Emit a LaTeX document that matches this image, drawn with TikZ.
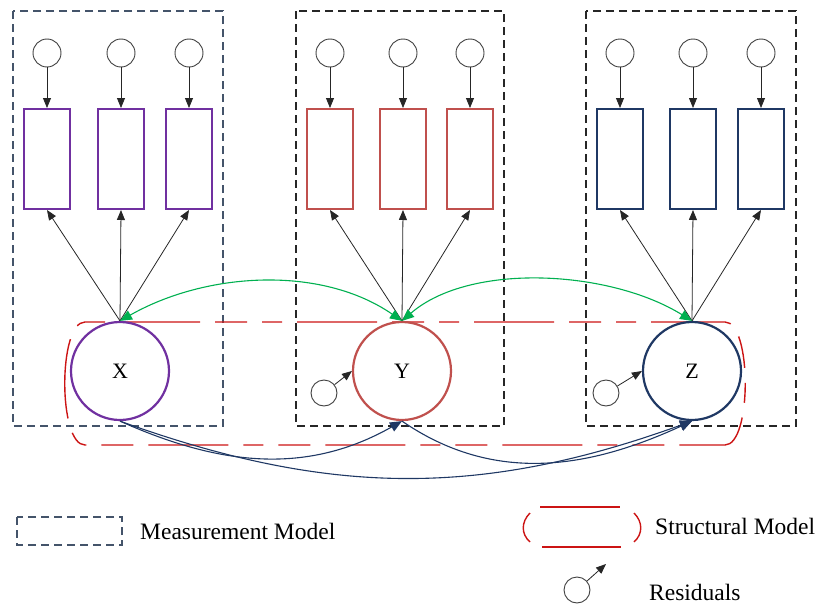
\documentclass[tikz,border=0pt]{standalone}
\usepackage{fontspec}
\setmainfont{Liberation Serif}
\usetikzlibrary{arrows.meta}
\definecolor{lvpurple}{HTML}{7030A0}
\definecolor{lvred}{HTML}{C0504D}
\definecolor{lvnavy}{HTML}{1F3864}
\definecolor{mmblue}{HTML}{44546A}
\definecolor{smred}{HTML}{CC1414}
\definecolor{covgreen}{HTML}{00B050}
\tikzset{
  >={Triangle[length=10pt,width=8pt]},
  indic/.style={draw,fill=white,minimum width=46pt,minimum height=100pt,
    line width=2pt,inner sep=0pt},
  errc/.style={circle,draw=black!75,fill=white,minimum size=28pt,
    line width=0.9pt,inner sep=0pt},
  latent/.style={circle,fill=white,minimum size=98pt,line width=2.2pt,
    inner sep=0pt,font=\fontsize{22}{26}\selectfont},
  resid/.style={circle,draw=black!75,fill=white,minimum size=26pt,
    line width=0.9pt,inner sep=0pt},
  load/.style={->,line width=0.8pt,black!85},
  mmbox/.style={dash pattern=on 8pt off 5pt,line width=1.1pt},
  smpath/.style={smred,line width=1.4pt,
    dash pattern=on 20pt off 15pt on 80pt off 15pt on 32pt off 15pt},
  smleg/.style={smred,line width=1.4pt},
  cov/.style={<->,covgreen,line width=1.1pt,>={Triangle[length=12pt,width=10pt]}},
  regr/.style={->,lvnavy,line width=1.1pt,>={Triangle[length=12pt,width=10pt]}},
  legtxt/.style={font=\fontsize{23.5}{28}\selectfont,anchor=west,inner sep=0pt},
}

\begin{document}
\begin{tikzpicture}[x=1pt,y=-1pt]
  \useasboundingbox (0,0) rectangle (820,605);
  % measurement model boxes
  \draw[mmbox,mmblue] (13,11) rectangle (223,426);
  \draw[mmbox,black!85] (296,11) rectangle (504,426);
  \draw[mmbox,black!85] (586,11) rectangle (796,426);
  % structural model
  \draw[smpath] (85,322) -- (725,322) .. controls (752,322) and (752,445) .. (725,445)
    -- (85,445) .. controls (58,445) and (58,322) .. (85,322);
  % latent variables
  \node[latent,draw=lvpurple] (X) at (120,371) {X};
  \node[latent,draw=lvred] (Y) at (402,371) {Y};
  \node[latent,draw=lvnavy] (Z) at (692,371) {Z};
  % indicators with their errors
  \foreach \lv/\col/\xa/\xb/\xc in {X/lvpurple/47/121/189,Y/lvred/330/403/470,
      Z/lvnavy/620/693/761} {
    \foreach \i/\xx in {1/\xa,2/\xb,3/\xc} {
      \node[indic,draw=\col] (\lv\i) at (\xx,159) {};
      \node[errc] (e\lv\i) at (\xx,53) {};
      \draw[load] (e\lv\i) -- (\lv\i);
      \draw[load] (\lv.north) -- (\lv\i.south);
    }
  }
  % residuals
  \node[resid] (rY) at (324,393) {};
  \node[resid] (rZ) at (606,393) {};
  \draw[load] (rY) -- (Y.west);
  \draw[load] (rZ) -- (Z.west);
  % covariances
  \draw[cov] (X.north) .. controls (206,272) and (321,265) .. (Y.north);
  \draw[cov] (Y.north) .. controls (470,262) and (610,270) .. (Z.north);
  % structural paths
  \draw[regr] (X.south) .. controls (220,466) and (307,475) .. (Y.south);
  \draw[regr] (X.south) .. controls (330,497) and (482,497) .. (Z.south);
  \draw[regr] (Y.south) .. controls (495,485) and (590,468) .. (Z.south);
  % legend
  \draw[mmbox,mmblue] (17,517) rectangle (122,545);
  \node[legtxt] (mmtxt) at (140,531) {Measurement Model};
  \draw[smleg] (530,513) .. controls (521,522) and (521,534) .. (530,542);
  \draw[smleg] (540,507) -- (620,507);
  \draw[smleg] (542,547) -- (621,547);
  \draw[smleg] (634,513) .. controls (643,522) and (643,534) .. (634,542);
  \node[legtxt] (smtxt) at (655,526) {Structural Model};
  \node[resid] (rleg) at (577,590) {};
  \coordinate (rtip) at (606,564);
  \draw[load] (rleg) -- (rtip);
  \node[legtxt] (restxt) at (649,592) {Residuals};
\end{tikzpicture}
\end{document}
